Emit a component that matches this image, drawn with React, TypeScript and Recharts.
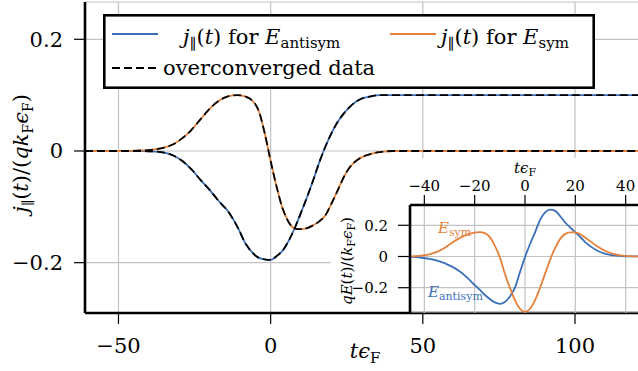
import type { ReactNode } from "react";
import {
  LineChart,
  Line,
  XAxis,
  YAxis,
  CartesianGrid,
  Legend,
  ReferenceArea,
} from "recharts";

const FONT = "'DejaVu Serif', 'Liberation Serif', 'Noto Serif', serif";
const BLUE = "#3b6fba";
const ORANGE = "#e5813a";
const GRID = "#c2c2c2";
const DASH = "8 4";

// main panel: j_par(t)/(q k_F eps_F) against t*eps_F
const mainTimes = [
  -61, -50, -42, -38, -35, -32, -29, -26, -23, -20, -17, -14, -11, -8, -6, -4,
  -2, 0, 2, 4, 6, 8, 10, 12, 14, 16, 18, 20, 22, 24, 26, 28, 30, 33, 36, 40, 45,
  60, 80, 100, 123,
];
const jAntisym = [
  0, 0, 0, -0.001, -0.003, -0.008, -0.018, -0.033, -0.052, -0.07, -0.09,
  -0.108, -0.135, -0.168, -0.182, -0.191, -0.194, -0.195, -0.188, -0.178,
  -0.16, -0.137, -0.11, -0.082, -0.052, -0.02, 0.008, 0.032, 0.052, 0.067,
  0.079, 0.088, 0.094, 0.098, 0.1, 0.1, 0.1, 0.1, 0.1, 0.1, 0.1,
];
const jSym = [
  0, 0, 0.001, 0.003, 0.006, 0.012, 0.023, 0.038, 0.057, 0.076, 0.09, 0.098,
  0.1, 0.097, 0.09, 0.073, 0.033, -0.018, -0.065, -0.104, -0.128, -0.139, -0.14,
  -0.138, -0.133, -0.126, -0.115, -0.094, -0.071, -0.047, -0.029, -0.018,
  -0.011, -0.005, -0.002, 0, 0, 0, 0, 0, 0,
];
const mainXTicks = [-50, 0, 50, 100];
const mainYTicks = [-0.2, 0, 0.2];

// inset: the two driving fields qE(t)/(k_F eps_F)
const insetTimes = [
  -46, -42, -38, -35, -32, -29, -26, -23, -20, -18, -16, -14, -12, -10, -8, -6,
  -4, -2, 0, 2, 4, 6, 8, 10, 12, 14, 16, 18, 20, 22, 24, 26, 29, 32, 35, 38, 42,
  46,
];
const fieldSym = [
  0, 0.004, 0.014, 0.03, 0.055, 0.088, 0.118, 0.14, 0.153, 0.156, 0.15, 0.124,
  0.07, -0.005, -0.11, -0.2, -0.28, -0.335, -0.355, -0.335, -0.28, -0.2, -0.11,
  -0.02, 0.055, 0.113, 0.145, 0.155, 0.155, 0.143, 0.12, 0.097, 0.062, 0.035,
  0.017, 0.007, 0.002, 0,
];
const fieldAntisym = [
  0, -0.006, -0.015, -0.026, -0.042, -0.065, -0.095, -0.135, -0.183, -0.212,
  -0.245, -0.272, -0.294, -0.303, -0.292, -0.256, -0.2, -0.1, -0.004, 0.08,
  0.155, 0.235, 0.283, 0.3, 0.292, 0.258, 0.218, 0.185, 0.155, 0.125, 0.09,
  0.065, 0.035, 0.017, 0.007, 0.003, 0.001, 0,
];
const insetXTicks = [-40, -20, 0, 20, 40];
const insetYTicks = [-0.2, 0, 0.2];

const mainData = mainTimes.map((t, i) => ({ t, anti: jAntisym[i], sym: jSym[i] }));
const insetData = insetTimes.map((t, i) => ({
  t,
  anti: fieldAntisym[i],
  sym: fieldSym[i],
}));

const fmt = (v: number) => (v < 0 ? "\u2212" + Math.abs(v) : String(v));

const frame = { stroke: "#000", strokeWidth: 2.6 };
const tickLine = { stroke: "#000", strokeWidth: 1.2 };
const serif = { fontFamily: FONT };

function MainYLabel({ viewBox }: any) {
  const x = viewBox.x + 28;
  const y = viewBox.y + viewBox.height / 2 - 4;
  return (
    <text
      x={x}
      y={y}
      transform={`rotate(-90 ${x} ${y})`}
      textAnchor="middle"
      style={serif}
      fontSize={21}
      fill="#000"
    >
      <tspan fontStyle="italic">j</tspan>
      <tspan fontSize={14} dy={5}>∥</tspan>
      <tspan dy={-5}>(</tspan>
      <tspan fontStyle="italic">t</tspan>
      <tspan>)/(</tspan>
      <tspan fontStyle="italic">qk</tspan>
      <tspan fontSize={14} dy={5}>F</tspan>
      <tspan dy={-5} fontStyle="italic">ϵ</tspan>
      <tspan fontSize={14} dy={5}>F</tspan>
      <tspan dy={-5}>)</tspan>
    </text>
  );
}

function MainXLabel({ viewBox }: any) {
  return (
    <text
      x={viewBox.x + viewBox.width / 2}
      y={viewBox.y + 45}
      textAnchor="middle"
      style={serif}
      fontSize={21}
      fill="#000"
    >
      <tspan fontStyle="italic">tϵ</tspan>
      <tspan fontSize={15} dy={5}>F</tspan>
    </text>
  );
}

function InsetXLabel({ viewBox }: any) {
  return (
    <text
      x={viewBox.x + viewBox.width / 2}
      y={viewBox.y + 22}
      textAnchor="middle"
      style={serif}
      fontSize={15}
      fill="#000"
    >
      <tspan fontStyle="italic">tϵ</tspan>
      <tspan fontSize={11} dy={3}>F</tspan>
    </text>
  );
}

function InsetYLabel({ viewBox }: any) {
  const x = viewBox.x + 32;
  const y = viewBox.y + viewBox.height / 2 + 2;
  return (
    <text
      x={x}
      y={y}
      transform={`rotate(-90 ${x} ${y})`}
      textAnchor="middle"
      style={serif}
      fontSize={15}
      fill="#000"
    >
      <tspan fontStyle="italic">qE</tspan>
      <tspan>(</tspan>
      <tspan fontStyle="italic">t</tspan>
      <tspan>)/(</tspan>
      <tspan fontStyle="italic">k</tspan>
      <tspan fontSize={11} dy={3}>F</tspan>
      <tspan dy={-3} fontStyle="italic">ϵ</tspan>
      <tspan fontSize={11} dy={3}>F</tspan>
      <tspan dy={-3}>)</tspan>
    </text>
  );
}

const legendSlots: Record<string, { x: number; y: number; tx: number; ty: number }> = {
  antisym: { x: 9, y: 20, tx: 80, ty: 30 },
  sym: { x: 287, y: 20, tx: 338, ty: 30 },
  overconverged: { x: 9, y: 54, tx: 60, ty: 61 },
};

function legendText(name: string): ReactNode {
  if (name === "overconverged") return "overconverged data";
  return (
    <>
      <tspan fontStyle="italic">j</tspan>
      <tspan fontSize={15} dy={5}>∥</tspan>
      <tspan dy={-5}>(</tspan>
      <tspan fontStyle="italic">t</tspan>
      <tspan>) for </tspan>
      <tspan fontStyle="italic">E</tspan>
      <tspan fontSize={15} dy={4}>{name}</tspan>
    </>
  );
}

function LegendBox({ payload }: any) {
  const items = (payload ?? []).filter((p: any) => legendSlots[p.value]);
  return (
    <svg width={492} height={75} style={{ display: "block" }}>
      <rect
        x={1.3}
        y={1.3}
        width={489.4}
        height={72.4}
        fill="#fff"
        stroke="#000"
        strokeWidth={2.6}
      />
      {items.map((p: any) => {
        const s = legendSlots[p.value];
        return (
          <g key={p.value}>
            <line
              x1={s.x}
              x2={s.x + 46}
              y1={s.y}
              y2={s.y}
              stroke={p.color}
              strokeWidth={1.8}
              strokeDasharray={p.value === "overconverged" ? DASH : undefined}
            />
            <text x={s.tx} y={s.ty} style={serif} fontSize={21} fill="#000">
              {legendText(p.value)}
            </text>
          </g>
        );
      })}
    </svg>
  );
}

export default function App() {
  return (
    <div
      style={{
        position: "absolute",
        left: 0,
        top: 0,
        width: 638,
        height: 371,
        overflow: "hidden",
        background: "#fff",
        fontFamily: FONT,
      }}
    >
      <LineChart
        width={645}
        height={371}
        data={mainData}
        margin={{ top: 2, right: 0, bottom: 0, left: 0 }}
      >
        <CartesianGrid stroke={GRID} strokeWidth={1.2} />
        <XAxis
          dataKey="t"
          type="number"
          domain={[-61, 123]}
          allowDataOverflow
          ticks={mainXTicks}
          interval={0}
          tickFormatter={fmt}
          height={58}
          tickSize={11}
          tickMargin={14}
          axisLine={frame}
          tickLine={tickLine}
          tick={{ fill: "#000", fontSize: 21, style: serif }}
          label={MainXLabel}
        />
        <XAxis
          xAxisId="top"
          orientation="top"
          dataKey="t"
          type="number"
          domain={[-61, 123]}
          height={0}
          tick={false}
          tickLine={false}
          axisLine={frame}
        />
        <YAxis
          type="number"
          domain={[-0.2901, 0.2668]}
          allowDataOverflow
          ticks={mainYTicks}
          interval={0}
          tickFormatter={fmt}
          width={85}
          tickSize={11}
          tickMargin={11}
          axisLine={frame}
          tickLine={tickLine}
          tick={{ fill: "#000", fontSize: 21, style: serif }}
          label={MainYLabel}
        />
        <ReferenceArea
          x1={19.7}
          x2={123}
          y1={-0.2901}
          y2={-0.0125}
          fill="#fff"
          fillOpacity={1}
          stroke="none"
        />
        <Line
          dataKey="anti"
          name="antisym"
          type="monotone"
          stroke={BLUE}
          strokeWidth={1.8}
          dot={false}
          isAnimationActive={false}
        />
        <Line
          dataKey="sym"
          name="sym"
          type="monotone"
          stroke={ORANGE}
          strokeWidth={1.8}
          dot={false}
          isAnimationActive={false}
        />
        <Line
          dataKey="anti"
          name="overconverged"
          type="monotone"
          stroke="#000"
          strokeWidth={1.8}
          strokeDasharray={DASH}
          dot={false}
          isAnimationActive={false}
        />
        <Line
          dataKey="sym"
          name="overconverged-sym"
          legendType="none"
          type="monotone"
          stroke="#000"
          strokeWidth={1.8}
          strokeDasharray={DASH}
          dot={false}
          isAnimationActive={false}
        />
        <Legend
          layout="horizontal"
          verticalAlign="middle"
          align="center"
          content={LegendBox}
          wrapperStyle={{ left: 103, top: 14, width: 492, height: 75 }}
        />
      </LineChart>

      <div style={{ position: "absolute", left: 320, top: 151 }}>
        <LineChart
          width={320}
          height={162}
          data={insetData}
          margin={{ top: 0, right: 0, bottom: 0, left: 0 }}
        >
          <CartesianGrid stroke={GRID} strokeWidth={1.2} />
          <XAxis
            dataKey="t"
            type="number"
            orientation="top"
            domain={[-45.7, 45.7]}
            allowDataOverflow
            ticks={insetXTicks}
            interval={0}
            tickFormatter={fmt}
            height={54}
            tickSize={10}
            tickMargin={4}
            axisLine={frame}
            tickLine={tickLine}
            tick={{ fill: "#000", fontSize: 15, style: serif }}
            label={InsetXLabel}
          />
          <XAxis
            xAxisId="bottom"
            dataKey="t"
            type="number"
            domain={[-45.7, 45.7]}
            height={0}
            tick={false}
            tickLine={false}
            axisLine={frame}
          />
          <YAxis
            type="number"
            domain={[-0.362, 0.33]}
            allowDataOverflow
            ticks={insetYTicks}
            interval={0}
            tickFormatter={fmt}
            width={90}
            tickSize={12}
            tickMargin={10}
            axisLine={frame}
            tickLine={tickLine}
            tick={{ fill: "#000", fontSize: 15, style: serif }}
            label={InsetYLabel}
          />
          <Line
            dataKey="anti"
            type="monotone"
            stroke={BLUE}
            strokeWidth={1.8}
            dot={false}
            isAnimationActive={false}
          />
          <Line
            dataKey="sym"
            type="monotone"
            stroke={ORANGE}
            strokeWidth={1.8}
            dot={false}
            isAnimationActive={false}
          />
          <text x={118} y={82} style={serif} fontSize={15} fill={ORANGE}>
            <tspan fontStyle="italic">E</tspan>
            <tspan fontSize={11} dy={3}>sym</tspan>
          </text>
          <text x={108} y={146} style={serif} fontSize={15} fill={BLUE}>
            <tspan fontStyle="italic">E</tspan>
            <tspan fontSize={11} dy={3}>antisym</tspan>
          </text>
        </LineChart>
      </div>
    </div>
  );
}
